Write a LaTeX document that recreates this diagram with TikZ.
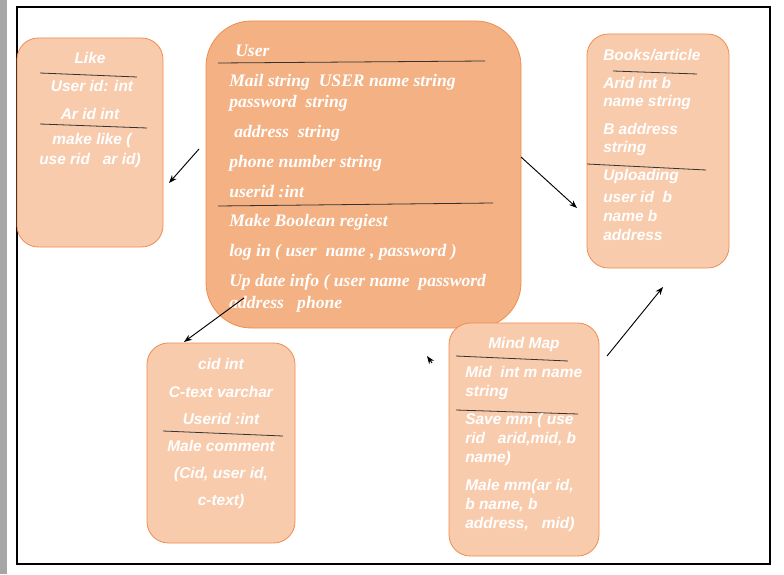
\documentclass[tikz,border=0pt]{standalone}
\usepackage{fontspec}
\setmainfont{Liberation Serif}
\setsansfont{Liberation Sans}
\usetikzlibrary{arrows.meta}
\definecolor{userfill}{HTML}{F4B183}
\definecolor{boxfill}{HTML}{F8CBAD}
\definecolor{boxline}{HTML}{F08C4E}
\tikzset{
  userbox/.style={draw=boxline, fill=userfill, rounded corners=34pt, line width=0.6pt},
  lightbox/.style={draw=boxline, fill=boxfill, rounded corners=16pt, line width=0.6pt},
  utext/.style={text=white, font=\fontsize{13.2}{15}\selectfont\bfseries\itshape, inner sep=0pt, anchor=west},
  stext/.style={text=white, font=\sffamily\fontsize{11.6}{13}\selectfont\bfseries\itshape, inner sep=0pt},
  sep/.style={draw=black!80, line width=0.6pt},
  link/.style={-{Stealth[length=6pt,width=4.5pt]}, line width=0.7pt}
}
\begin{document}
\begin{tikzpicture}[x=0.75pt,y=-0.75pt]
\useasboundingbox (0,0) rectangle (784,574);
\fill[black!35] (0,0) rectangle (7,574);
\draw[line width=0.8pt] (17,7) rectangle (770,564);

% boxes
\node[lightbox, minimum width=109.5pt, minimum height=156.75pt] (like) at (90,142.5) {};
\node[userbox, minimum width=236.25pt, minimum height=230.25pt] (user) at (363.5,174.5) {};
\node[lightbox, minimum width=106.5pt, minimum height=175.5pt] (books) at (658,151) {};
\node[lightbox, minimum width=111pt, minimum height=150pt] (comment) at (221,443) {};
\node[lightbox, minimum width=112.5pt, minimum height=174.75pt] (mind) at (524,439.5) {};

% User
\node[utext] (u0) at (235,51) {User};
\draw[sep] (218,63) -- (485,61);
\node[utext] (u1) at (229,82) {Mail string~ USER name string};
\node[utext] (u2) at (229,103) {password~ string};
\node[utext] (u3) at (234,133) {address~ string};
\node[utext] (u4) at (229,163) {phone number string};
\node[utext] (u5) at (229,192) {userid :int};
\draw[sep] (218,206) -- (493,203);
\node[utext] (u6) at (229,222) {Make Boolean regiest};
\node[utext] (u7) at (229,252) {log in ( user~ name , password )};
\node[utext] (u8) at (229,282) {Up date info ( user name~ password};
\node[utext] (u9) at (229,304) {address~~ phone};

% Like
\node[stext] (l0) at (90,58) {Like};
\draw[sep] (40,73) -- (137,77);
\node[stext] (l1) at (92,86) {User id: int};
\node[stext] (l2) at (90,114) {Ar id int};
\draw[sep] (40,124) -- (147,128);
\node[stext] (l3) at (92,141) {make like (};
\node[stext] (l4) at (90,161) {use rid~~ ar id)};

% Books/article
\node[stext, anchor=west] (b0) at (603,55) {Books/article};
\draw[sep] (613,71) -- (697,74);
\node[stext, anchor=west] (b1) at (603,83) {Arid int b};
\node[stext, anchor=west] (b2) at (603,103) {name string};
\node[stext, anchor=west] (b3) at (603,129) {B address};
\node[stext, anchor=west] (b4) at (603,149) {string};
\draw[sep] (587,164) -- (706,170);
\node[stext, anchor=west] (b5) at (603,177) {Uploading};
\node[stext, anchor=west] (b6) at (603,197) {user id~ b};
\node[stext, anchor=west] (b7) at (603,216) {name b};
\node[stext, anchor=west] (b8) at (603,235) {address};

% comment
\node[stext] (c0) at (221,364) {cid int};
\node[stext] (c1) at (221,392) {C-text varchar};
\node[stext] (c2) at (221,419) {Userid :int};
\draw[sep] (163,431) -- (283,436);
\node[stext] (c3) at (221,446) {Male comment};
\node[stext] (c4) at (221,474) {(Cid, user id,};
\node[stext] (c5) at (221,501) {c-text)};

% Mind Map
\node[stext] (m0) at (524,344) {Mind Map};
\draw[sep] (456,356) -- (568,361);
\node[stext, anchor=west] (m1) at (465,372) {Mid~ int m name};
\node[stext, anchor=west] (m2) at (465,392) {string};
\draw[sep] (456,410) -- (578,414);
\node[stext, anchor=west] (m3) at (465,420) {Save mm ( use};
\node[stext, anchor=west] (m4) at (465,439) {rid~~ arid,mid, b};
\node[stext, anchor=west] (m5) at (465,458) {name)};
\node[stext, anchor=west] (m6) at (465,486) {Male mm(ar id,};
\node[stext, anchor=west] (m7) at (465,505) {b name, b};
\node[stext, anchor=west] (m8) at (465,524) {address,~~ mid)};

% connectors
\coordinate (p1) at (199,149);
\coordinate (q1) at (169,183);
\coordinate (p2) at (521,157);
\coordinate (q2) at (577,208);
\coordinate (p3) at (244,298);
\coordinate (q3) at (184,342);
\coordinate (p4) at (432,363);
\coordinate (q4) at (427,356);
\coordinate (p5) at (607,356);
\coordinate (q5) at (663,287);
\draw[link] (p1) -- (q1);
\draw[link] (p2) -- (q2);
\draw[link] (p3) -- (q3);
\draw[link] (p4) -- (q4);
\draw[link] (p5) -- (q5);
\end{tikzpicture}
\end{document}
